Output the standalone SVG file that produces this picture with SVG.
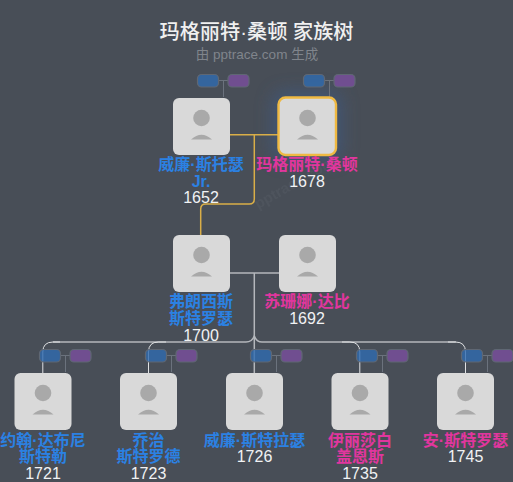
<svg xmlns="http://www.w3.org/2000/svg" width="513" height="482" viewBox="0 0 513 482">
<style>
text{font-family:"Liberation Sans","Noto Sans CJK SC",sans-serif;text-anchor:middle}
.card{fill:#d9d9d9}
.face{fill:#a9a9a9}
.m{fill:#2b81e3;font-size:16px;font-weight:700}
.f{fill:#e1369e;font-size:16px;font-weight:700}
.y{fill:#f1f2f4;font-size:16px}
.pb{fill:#2f6bb0;fill-opacity:.8;stroke:#5f6773;stroke-width:1.2}
.pp{fill:#7a4f9f;fill-opacity:.8;stroke:#5f6773;stroke-width:1.2}
.st{fill:none;stroke:#6b727d;stroke-width:1}
.gold{fill:none;stroke:#d9ae48;stroke-width:1.5}
.white{fill:none;stroke:#b4b7bc;stroke-width:1.5}
.thin{fill:none;stroke:#e0e2e4;stroke-width:1}
</style>
<defs>
<g id="av"><rect class="card" width="57" height="57" rx="6"/><circle class="face" cx="28.5" cy="20" r="8.3"/><path class="face" d="M18 41.5Q28.5 32 39 41.5Z"/></g>
<g id="pills"><path class="st" d="M21.5 6.5H31M26.5 6.5V23"/><rect class="pb" x=".5" y=".5" width="21" height="12.5" rx="4"/><rect class="pp" x="31" y=".5" width="21" height="12.5" rx="4"/></g>
<filter id="glow" x="-50%" y="-50%" width="200%" height="200%"><feGaussianBlur stdDeviation="9"/></filter>
</defs>
<rect width="513" height="482" fill="#484e57"/>
<g id="title">
<text x="256.5" y="38.5" font-size="20.2" font-weight="500" fill="#f0f0f0">玛格丽特·桑顿 家族树</text>
<text x="257" y="59" font-size="13.5" fill="#80858c">由 pptrace.com 生成</text>
</g>
<rect x="273" y="92" width="68" height="68" rx="10" fill="#3d5a85" opacity=".7" filter="url(#glow)"/>
<text x="297" y="187" font-size="15" font-weight="700" fill="#5a6069" opacity=".35" transform="rotate(-30 297 187)">pptrace.com</text>
<g id="connectors">
<path class="gold" d="M230 134.7H279M254.3 134.7V199Q254.3 204 249.3 204H205.7Q200.7 204 200.7 209V235"/>
<path class="white" d="M230 273H279M254.3 273V373"/>
<path class="white" d="M53 342H246Q252 342 254.3 336Q256.6 342 262 342H456"/>
<path class="thin" d="M42.8 373.3V352Q42.8 342 53 342H60M148.5 373.3V352Q148.5 342 158.5 342H166M359.8 373.3V352Q359.8 342 349.8 342H342M465.5 373.3V352Q465.5 342 455.5 342H448"/>
</g>
<g id="n-william"><use href="#pills" x="197" y="74"/><use href="#av" x="173" y="98"/>
<text class="m" x="201" y="170">威廉·斯托瑟</text><text class="m" x="201" y="187">Jr.</text><text class="y" x="201" y="203">1652</text></g>
<g id="n-margaret"><use href="#pills" x="303" y="74"/><use href="#av" x="279" y="98"/><rect x="278.5" y="97.5" width="57.5" height="57.5" rx="7" fill="none" stroke="#efb942" stroke-width="2.4"/>
<text class="f" x="307" y="170">玛格丽特·桑顿</text><text class="y" x="307" y="187">1678</text></g>
<g id="n-francis"><use href="#av" x="173" y="235"/>
<text class="m" x="201" y="307">弗朗西斯</text><text class="m" x="201" y="324">斯特罗瑟</text><text class="y" x="201" y="341">1700</text></g>
<g id="n-susanna"><use href="#av" x="279" y="235"/>
<text class="f" x="307" y="307">苏珊娜·达比</text><text class="y" x="307" y="324">1692</text></g>
<g id="n-john"><use href="#pills" x="39" y="349"/><use href="#av" x="14.5" y="373"/>
<text class="m" x="43" y="446">约翰·达布尼</text><text class="m" x="43" y="462">斯特勒</text><text class="y" x="43" y="479">1721</text></g>
<g id="n-george"><use href="#pills" x="145" y="349"/><use href="#av" x="120" y="373"/>
<text class="m" x="148.5" y="446">乔治</text><text class="m" x="148.5" y="462">斯特罗德</text><text class="y" x="148.5" y="479">1723</text></g>
<g id="n-william2"><use href="#pills" x="250" y="349"/><use href="#av" x="226" y="373"/>
<text class="m" x="254.5" y="446">威廉·斯特拉瑟</text><text class="y" x="254.5" y="462">1726</text></g>
<g id="n-elizabeth"><use href="#pills" x="356" y="349"/><use href="#av" x="331.5" y="373"/>
<text class="f" x="360" y="446">伊丽莎白</text><text class="f" x="360" y="462">盖恩斯</text><text class="y" x="360" y="479">1735</text></g>
<g id="n-anne"><use href="#pills" x="461" y="349"/><use href="#av" x="437" y="373"/>
<text class="f" x="465.5" y="446">安·斯特罗瑟</text><text class="y" x="465.5" y="462">1745</text></g>
</svg>
